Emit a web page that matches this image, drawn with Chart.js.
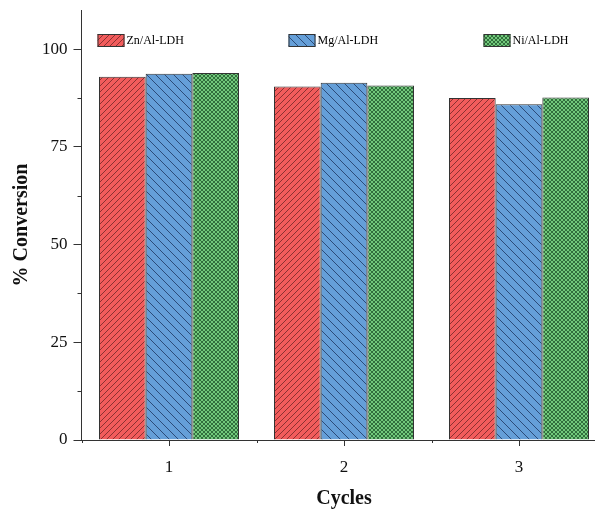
<!DOCTYPE html>
<html>
<head>
<meta charset="utf-8">
<script src="https://cdn.jsdelivr.net/npm/chart.js@4"></script>
<style>
    html, body { margin: 0; padding: 0; background: #fff; overflow: hidden; }
    #chart { display: block; }
</style>
</head>
<body>
<canvas id="chart" width="612" height="510"></canvas>
<script>
const cycles = ['1', '2', '3'];
const seriesNames = ['Zn/Al-LDH', 'Mg/Al-LDH', 'Ni/Al-LDH'];
const znValues = [92.9, 90.4, 87.5];
const mgValues = [93.7, 91.4, 85.9];
const niValues = [93.9, 90.7, 87.6];
const yTicks = [0, 25, 50, 75, 100];

const serif = "'Liberation Serif', 'Times New Roman', serif";

function makePattern(fill, lineColor, size, kind) {
    const c = document.createElement('canvas');
    c.width = size;
    c.height = size;
    const g = c.getContext('2d');
    g.fillStyle = fill;
    g.fillRect(0, 0, size, size);
    g.strokeStyle = lineColor;
    g.lineWidth = 1;
    g.beginPath();
    if (kind === 'slash' || kind === 'cross') {
        g.moveTo(-1, size + 1); g.lineTo(size + 1, -1);
        g.moveTo(-1, 1); g.lineTo(1, -1);
        g.moveTo(size - 1, size + 1); g.lineTo(size + 1, size - 1);
    }
    if (kind === 'back' || kind === 'cross') {
        g.moveTo(-1, -1); g.lineTo(size + 1, size + 1);
        g.moveTo(size - 1, -1); g.lineTo(size + 1, 1);
        g.moveTo(-1, size - 1); g.lineTo(1, size + 1);
    }
    g.stroke();
    return g.createPattern(c, 'repeat');
}

const patterns = [
    makePattern('#f25c5c', 'rgba(70,20,20,0.6)', 6, 'slash'),
    makePattern('#659fd8', 'rgba(20,40,80,0.7)', 9, 'back'),
    makePattern('#72c97b', 'rgba(30,80,40,0.75)', 4, 'cross')
];

// legend drawn inside the plot, like the original figure
const insideLegend = {
    id: 'insideLegend',
    afterDraw(chart) {
        const ctx = chart.ctx;
        const area = chart.chartArea;
        const xs = [area.left + 16, area.left + 207, area.left + 402];
        const y = area.top + 24;
        ctx.save();
        ctx.font = '12px ' + serif;
        ctx.textBaseline = 'middle';
        for (let i = 0; i < seriesNames.length; i++) {
            ctx.fillStyle = patterns[i];
            ctx.fillRect(xs[i], y, 27, 13);
            ctx.strokeStyle = '#333';
            ctx.lineWidth = 1;
            ctx.strokeRect(xs[i] + 0.5, y + 0.5, 26, 12);
            ctx.fillStyle = '#000';
            ctx.fillText(seriesNames[i], xs[i] + 29, y + 7);
        }
        ctx.restore();
    }
};

// minor ticks on both axes
const minorTicks = {
    id: 'minorTicks',
    afterDraw(chart) {
        const ctx = chart.ctx;
        const x = chart.scales.x;
        const y = chart.scales.y;
        const area = chart.chartArea;
        ctx.save();
        ctx.strokeStyle = '#333';
        ctx.lineWidth = 1;
        ctx.beginPath();
        for (let i = 0; i < yTicks.length - 1; i++) {
            const py = Math.round(y.getPixelForValue((yTicks[i] + yTicks[i + 1]) / 2)) + 0.5;
            ctx.moveTo(area.left, py);
            ctx.lineTo(area.left - 4, py);
        }
        const half = (x.getPixelForValue(1) - x.getPixelForValue(0)) / 2;
        for (let i = 0; i <= cycles.length; i++) {
            const px = Math.round(x.getPixelForValue(i) - half) + 0.5;
            ctx.moveTo(px, area.bottom);
            ctx.lineTo(px, area.bottom + 3);
        }
        ctx.stroke();
        ctx.restore();
    }
};

function makeDataset(label, values, i) {
    return {
        label: label,
        data: values,
        backgroundColor: patterns[i],
        borderColor: '#333',
        borderWidth: 1,
        categoryPercentage: 0.8,
        barPercentage: 1.0
    };
}

new Chart(document.getElementById('chart'), {
    type: 'bar',
    data: {
        labels: cycles,
        datasets: [
            makeDataset(seriesNames[0], znValues, 0),
            makeDataset(seriesNames[1], mgValues, 1),
            makeDataset(seriesNames[2], niValues, 2)
        ]
    },
    options: {
        responsive: false,
        devicePixelRatio: 1,
        animation: false,
        layout: {
            padding: {top: 10, right: 5.5, left: 0, bottom: 0}
        },
        plugins: {
            legend: {display: false},
            tooltip: {enabled: false}
        },
        scales: {
            x: {
                grid: {
                    offset: false,
                    drawOnChartArea: false,
                    tickLength: 6,
                    color: '#333'
                },
                border: {display: true, color: '#333', width: 1},
                ticks: {
                    color: '#111',
                    padding: 11,
                    font: {family: serif, size: 17}
                },
                title: {
                    display: true,
                    text: 'Cycles',
                    color: '#111',
                    padding: {top: 0, bottom: 0},
                    font: {family: serif, size: 20, weight: 'bold', lineHeight: 1.1}
                },
                afterFit(scale) {
                    scale.height = 70;
                    scale.paddingLeft = 0;
                    scale.paddingRight = 0;
                }
            },
            y: {
                min: 0,
                max: 110,
                grid: {
                    drawOnChartArea: false,
                    tickLength: 8,
                    color: '#333'
                },
                border: {display: true, color: '#333', width: 1},
                ticks: {
                    stepSize: 25,
                    color: '#111',
                    padding: 6,
                    font: {family: serif, size: 17}
                },
                afterBuildTicks(scale) {
                    scale.ticks = yTicks.map(v => ({value: v}));
                },
                title: {
                    display: true,
                    text: '% Conversion',
                    color: '#111',
                    padding: {top: 10, bottom: 0},
                    font: {family: serif, size: 20, weight: 'bold'}
                },
                afterFit(scale) {
                    scale.width = 81.5;
                    scale.paddingTop = 0;
                    scale.paddingBottom = 0;
                }
            }
        }
    },
    plugins: [insideLegend, minorTicks]
});
</script>
</body>
</html>
